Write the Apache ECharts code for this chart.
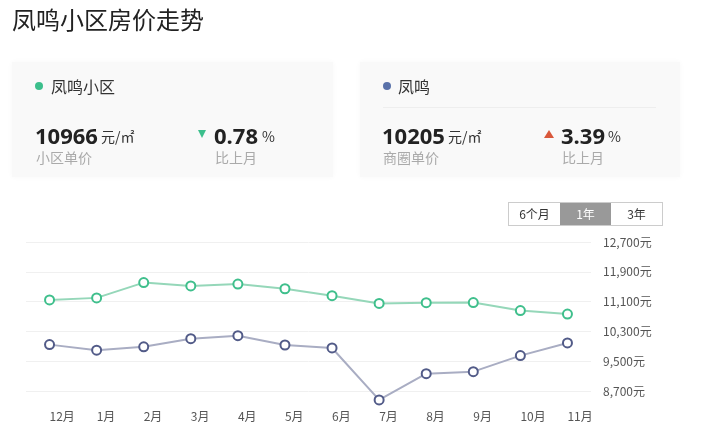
<!DOCTYPE html>
<html>
<head>
<meta charset="utf-8">
<script src="https://cdn.jsdelivr.net/npm/echarts@6/dist/echarts.min.js"></script>
<style>
  html, body { margin: 0; padding: 0; background: #fff; }
  body { width: 727px; height: 436px; position: relative; overflow: hidden;
         font-family: "Noto Sans CJK SC", "Noto Sans", sans-serif; }
  #main { position: absolute; left: 0; top: 0; width: 727px; height: 436px; }
  .abs { position: absolute; white-space: nowrap; line-height: 1; }
  .card { position: absolute; background: #f9f9f9; box-shadow: 0 0 6px rgba(0,0,0,0.03); }
  .dot { position: absolute; width: 8px; height: 8px; border-radius: 50%; }
  .name { font-size: 16px; color: #333; }
  .num { font-family: "Open Sans", "Noto Sans", sans-serif; font-weight: bold; font-size: 22px; color: #222; }
  .unit { font-size: 14px; color: #333; }
  .sub { font-size: 14px; color: #aaa; }
  .btns { position: absolute; left: 508px; top: 202px; height: 22px; border: 1px solid #ccc; display: flex; }
  .btns div { width: 51px; height: 22px; line-height: 22px; text-align: center; font-size: 12px; color: #333; }
  .btns div.on { background: #999; color: #fff; }
</style>
</head>
<body>
<div id="main"></div>

<div class="abs" style="left:12px;top:7px;font-size:24px;color:#222;">凤鸣小区房价走势</div>

<div class="card" style="left:12px;top:62px;width:321px;height:115px;"></div>
<div class="dot" style="left:35px;top:82px;background:#3cbf8c;"></div>
<div class="abs name" style="left:51px;top:78px;">凤鸣小区</div>
<div class="abs num" style="left:35px;top:124px;">10966</div>
<div class="abs unit" style="left:101px;top:129px;">元/㎡</div>
<div class="abs sub" style="left:36px;top:150px;">小区单价</div>
<div class="abs" style="left:198px;top:130px;width:0;height:0;border-left:4.5px solid transparent;border-right:4.5px solid transparent;border-top:8px solid #3cbf8c;"></div>
<div class="abs num" style="left:214px;top:124px;">0.78</div>
<div class="abs unit" style="left:262px;top:129px;">%</div>
<div class="abs sub" style="left:215px;top:150px;">比上月</div>

<div class="card" style="left:360px;top:62px;width:320px;height:115px;"></div>
<div class="dot" style="left:383px;top:82px;background:#5a72aa;"></div>
<div class="abs name" style="left:398px;top:78px;">凤鸣</div>
<div class="abs" style="left:383px;top:107px;width:273px;height:1px;background:#eee;"></div>
<div class="abs num" style="left:382px;top:124px;">10205</div>
<div class="abs unit" style="left:448px;top:129px;">元/㎡</div>
<div class="abs sub" style="left:383px;top:150px;">商圈单价</div>
<div class="abs" style="left:544px;top:130px;width:0;height:0;border-left:5px solid transparent;border-right:5px solid transparent;border-bottom:8px solid #d9583b;"></div>
<div class="abs num" style="left:561px;top:124px;">3.39</div>
<div class="abs unit" style="left:608px;top:129px;">%</div>
<div class="abs sub" style="left:562px;top:150px;">比上月</div>

<div class="btns"><div>6个月</div><div class="on">1年</div><div>3年</div></div>

<script>
// 月份
var months = ['12月', '1月', '2月', '3月', '4月', '5月', '6月', '7月', '8月', '9月', '10月', '11月'];
// 凤鸣小区 单价
var xiaoquPrice = [11145, 11200, 11610, 11520, 11570, 11445, 11260, 11050, 11070, 11075, 10860, 10765];
// 凤鸣 商圈单价
var shangquanPrice = [9945, 9795, 9885, 10105, 10185, 9935, 9855, 8460, 9165, 9220, 9650, 9990];
// y轴刻度
var yMin = 8700, yMax = 12700, yStep = 800;

var chart = echarts.init(document.getElementById('main'));

function fmt(v) {
    return String(v).replace(/\B(?=(\d{3})+(?!\d))/g, ',') + '元';
}

var option = {
    animation: false,
    grid: {
        left: 26,
        top: 242,
        width: 565,
        height: 149
    },
    xAxis: {
        type: 'category',
        data: months,
        axisLine: { show: false },
        axisTick: { show: false },
        axisLabel: {
            align: 'left',
            margin: 19,
            fontSize: 12,
            color: '#555',
            fontFamily: 'Noto Sans CJK SC'
        }
    },
    yAxis: {
        type: 'value',
        position: 'right',
        min: yMin,
        max: yMax,
        interval: yStep,
        axisLine: { show: false },
        axisTick: { show: false },
        splitLine: { lineStyle: { color: '#f0f0f0', width: 1 } },
        axisLabel: {
            margin: 12,
            fontSize: 12,
            color: '#555',
            fontFamily: 'Noto Sans CJK SC',
            formatter: fmt
        }
    },
    series: [
        {
            name: '凤鸣小区',
            type: 'line',
            data: xiaoquPrice,
            clip: false,
            symbol: 'circle',
            symbolSize: 9,
            lineStyle: { color: '#95d7b9', width: 2 },
            itemStyle: { color: '#fff', borderColor: '#3fbf8c', borderWidth: 2 }
        },
        {
            name: '凤鸣',
            type: 'line',
            data: shangquanPrice,
            clip: false,
            symbol: 'circle',
            symbolSize: 9,
            lineStyle: { color: '#a9adc3', width: 2 },
            itemStyle: { color: '#fff', borderColor: '#525b88', borderWidth: 2 }
        }
    ]
};

chart.setOption(option);
</script>
</body>
</html>
